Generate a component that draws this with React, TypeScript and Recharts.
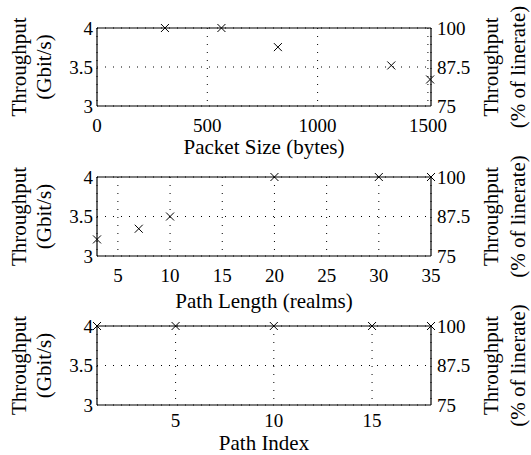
import React from 'react'
import {
  CartesianGrid,
  Label,
  ReferenceLine,
  Scatter,
  ScatterChart,
  XAxis,
  YAxis,
} from 'recharts'

const packetSizes = [308, 564, 820, 1334, 1510]
const packetThroughput = [4.0, 4.0, 3.755, 3.52, 3.34]
const packetTicks = [0, 500, 1000, 1500]

const pathLengths = [3, 7, 10, 20, 30, 35]
const pathLengthThroughput = [3.21, 3.345, 3.5, 4.0, 4.0, 4.0]
const pathLengthTicks = [5, 10, 15, 20, 25, 30, 35]

const pathIndices = [1, 5, 10, 15, 18]
const pathIndexThroughput = [4.0, 4.0, 4.0, 4.0, 4.0]
const pathIndexTicks = [5, 10, 15]

const gbitTicks = [3, 3.5, 4]
const linerateTicks = [75, 87.5, 100]

const FONT = '"Liberation Serif", "DejaVu Serif", serif'
const TICK = { fill: '#000', fontSize: 19, fontFamily: FONT }
const AXIS_LINE = { stroke: '#000', strokeWidth: 1.2 }

function Cross(props: any) {
  const { cx, cy } = props
  if (cx == null || cy == null) return null
  const r = 4
  return (
    <path
      d={`M${cx - r},${cy - r}L${cx + r},${cy + r}M${cx - r},${cy + r}L${cx + r},${cy - r}`}
      stroke="#000"
      strokeWidth={1}
      fill="none"
    />
  )
}

function TwoLineTitle({
  viewBox,
  lines,
  xs,
}: {
  viewBox?: any
  lines: string[]
  xs: number[]
}) {
  if (!viewBox) return null
  const cy = viewBox.y + viewBox.height / 2
  return (
    <g>
      {lines.map((t, i) => (
        <text
          key={t}
          x={xs[i]}
          y={cy}
          transform={`rotate(-90, ${xs[i]}, ${cy})`}
          textAnchor="middle"
          dominantBaseline="central"
          fontFamily={FONT}
          fontSize={21}
          fill="#000"
        >
          {t}
        </text>
      ))}
    </g>
  )
}

function XTitle({ viewBox, text, offset }: { viewBox?: any; text: string; offset: number }) {
  if (!viewBox) return null
  return (
    <text
      x={viewBox.x + viewBox.width / 2}
      y={viewBox.y + offset}
      textAnchor="middle"
      fontFamily={FONT}
      fontSize={21}
      fill="#000"
    >
      {text}
    </text>
  )
}

function Panel({
  xs,
  ys,
  xDomain,
  xTicks,
  xLabel,
  top,
  height,
  axisHeight,
  titleOffset,
  tickMargin = 7,
}: {
  xs: number[]
  ys: number[]
  xDomain: [number, number]
  xTicks: number[]
  xLabel: string
  top: number
  height: number
  axisHeight: number
  titleOffset: number
  tickMargin?: number
}) {
  const data = xs.map((x, i) => ({ x, y: ys[i] }))
  return (
    <ScatterChart
      width={531}
      height={height}
      margin={{ top, right: 60, bottom: 0, left: 57 }}
    >
      <CartesianGrid stroke="#000" strokeDasharray="1 7" />
      <XAxis
        type="number"
        dataKey="x"
        domain={xDomain}
        ticks={xTicks}
        height={axisHeight}
        axisLine={AXIS_LINE}
        tickLine={false}
        tickSize={6}
        tickMargin={tickMargin}
        tick={TICK}
        interval={0}
      >
        <Label content={(p: any) => <XTitle viewBox={p.viewBox} text={xLabel} offset={titleOffset} />} />
      </XAxis>
      <YAxis
        type="number"
        dataKey="y"
        domain={[3, 4]}
        ticks={gbitTicks}
        width={40}
        axisLine={AXIS_LINE}
        tickLine={false}
        tickSize={2}
        tickMargin={2}
        tick={TICK}
        interval={0}
      >
        <Label
          content={(p: any) => (
            <TwoLineTitle viewBox={p.viewBox} lines={['Throughput', '(Gbit/s)']} xs={[19, 44]} />
          )}
        />
      </YAxis>
      <YAxis
        yAxisId="pct"
        orientation="right"
        type="number"
        domain={[75, 100]}
        ticks={linerateTicks}
        allowDataOverflow
        width={40}
        axisLine={AXIS_LINE}
        tickLine={false}
        tickSize={4}
        tickMargin={2}
        tick={TICK}
        interval={0}
      >
        <Label
          content={(p: any) => (
            <TwoLineTitle
              viewBox={p.viewBox}
              lines={['Throughput', '(% of linerate)']}
              xs={[491, 518]}
            />
          )}
        />
      </YAxis>
      <ReferenceLine y={4} stroke="#000" strokeWidth={1.2} />
      <Scatter data={data} shape={Cross} isAnimationActive={false} />
    </ScatterChart>
  )
}

export default function App() {
  return (
    <div style={{ position: 'absolute', left: 0, top: 0, width: 531, height: 455, background: '#fff' }}>
      <div style={{ position: 'absolute', left: 0, top: 0 }}>
        <Panel
          xs={packetSizes}
          ys={packetThroughput}
          xDomain={[0, 1514]}
          xTicks={packetTicks}
          xLabel="Packet Size (bytes)"
          top={28}
          height={165}
          axisHeight={59}
          titleOffset={48}
        />
      </div>
      <div style={{ position: 'absolute', left: 0, top: 150 }}>
        <Panel
          xs={pathLengths}
          ys={pathLengthThroughput}
          xDomain={[3, 35]}
          xTicks={pathLengthTicks}
          xLabel="Path Length (realms)"
          top={27}
          height={165}
          axisHeight={59}
          titleOffset={52}
        />
      </div>
      <div style={{ position: 'absolute', left: 0, top: 300 }}>
        <Panel
          xs={pathIndices}
          ys={pathIndexThroughput}
          xDomain={[1, 18]}
          xTicks={pathIndexTicks}
          xLabel="Path Index"
          top={26}
          height={155}
          axisHeight={50}
          titleOffset={45}
          tickMargin={3}
        />
      </div>
    </div>
  )
}
